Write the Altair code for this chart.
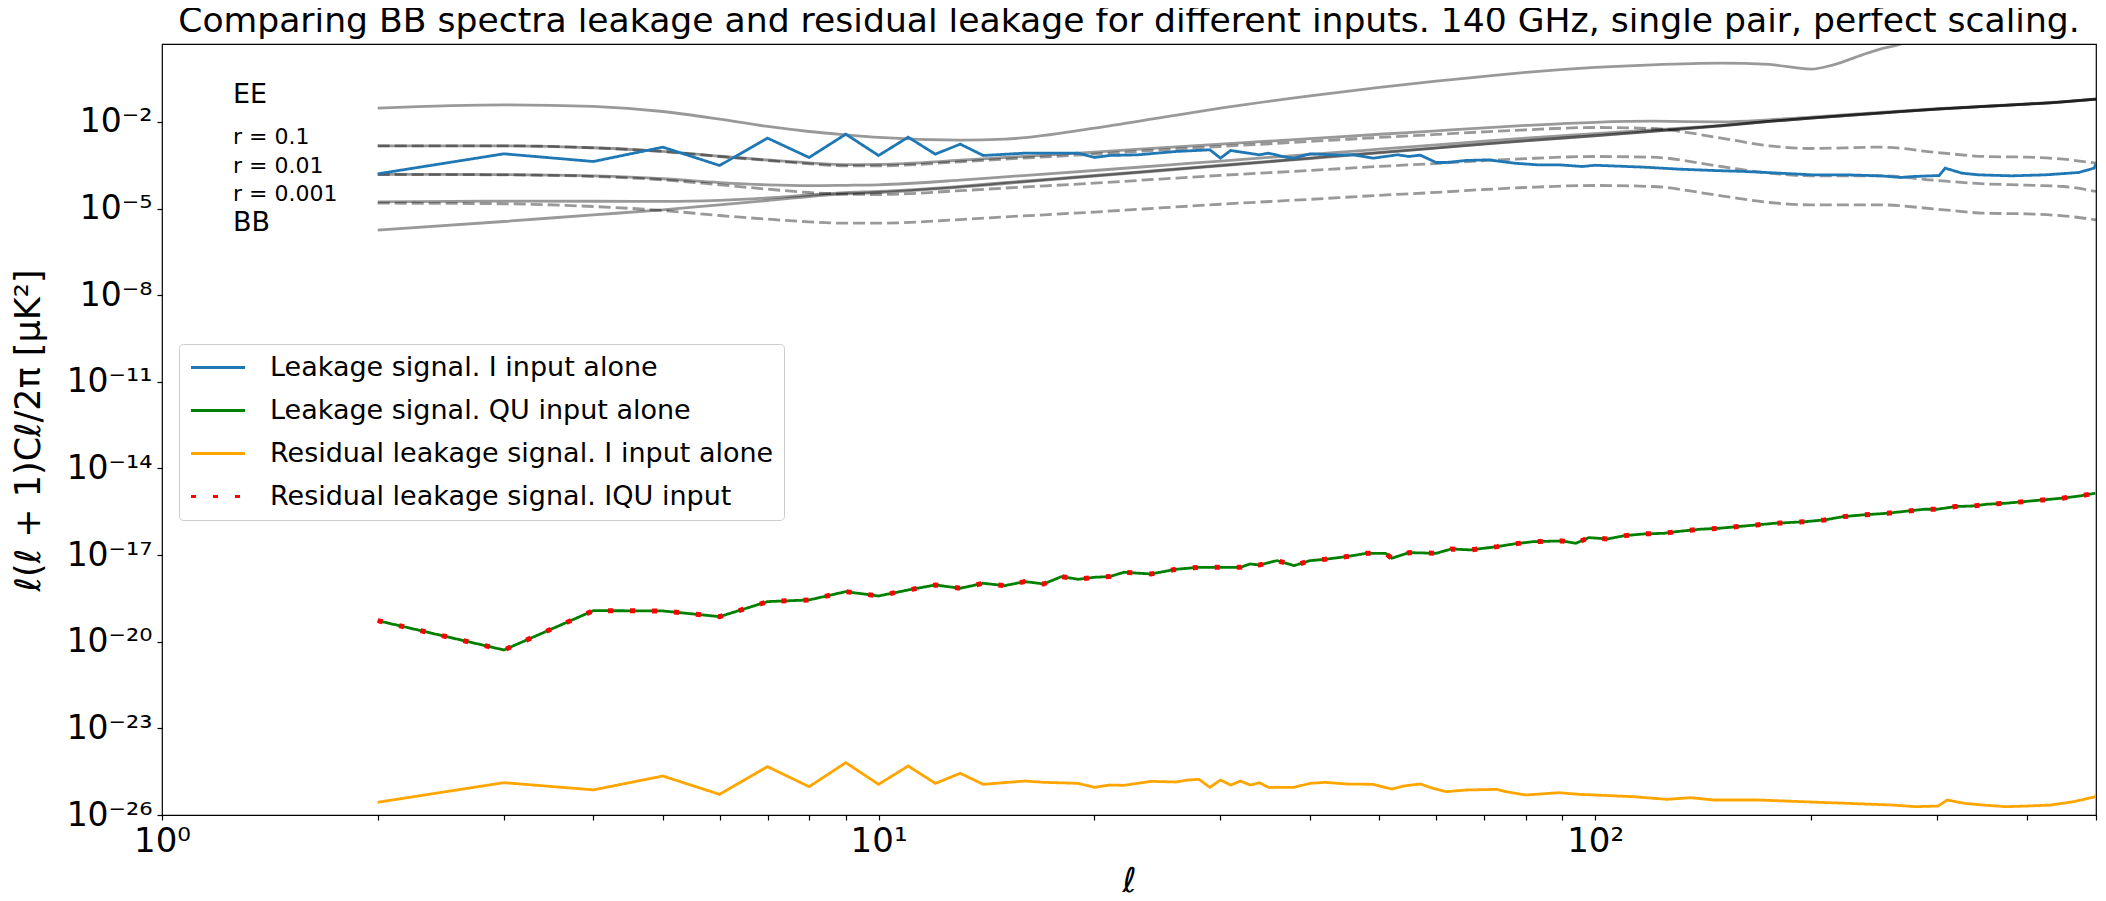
import altair as alt
import pandas as pd

# ---------------- data (log10 of l(l+1)C_l/2pi) -------------
ELL_TH = [2, 3, 4, 5, 6, 7, 8, 9, 10, 13, 15, 20, 25, 30, 40, 50, 60, 70, 80, 100,
          120, 150, 175, 200, 250, 300, 350, 400, 450, 500]

EE_ELL = [2, 3, 4, 5, 6, 7, 8, 9, 10, 13, 15, 20, 25, 30, 40, 50, 60, 70, 80, 100,
          120, 150, 175, 200, 215, 236, 250, 265, 280]
EE_LOG = [-1.522, -1.407, -1.464, -1.638, -1.903, -2.157, -2.331, -2.446, -2.538, -2.631,
          -2.596, -2.215, -1.834, -1.522, -1.095, -0.806, -0.587, -0.425, -0.287, -0.113,
          -0.021, 0.037, -0.009, -0.171, -0.021, 0.325, 0.522, 0.672, 0.903]

BB_R01_TENSOR = [-2.827, -2.827, -2.896, -3.023, -3.197, -3.335, -3.451, -3.520, -3.520, -3.381,
                 -3.289, -3.116, -2.966, -2.850, -2.677, -2.538, -2.434, -2.342, -2.273, -2.192,
                 -2.227, -2.561, -2.827, -2.919, -2.873, -3.058, -3.197, -3.220, -3.289, -3.427]
BB_R001_TENSOR = [-3.820, -3.832, -3.889, -4.005, -4.178, -4.328, -4.444, -4.501, -4.513, -4.380,
                  -4.290, -4.120, -3.970, -3.850, -3.680, -3.540, -3.440, -3.340, -3.270, -3.197,
                  -3.220, -3.543, -3.774, -3.866, -3.866, -4.028, -4.143, -4.189, -4.235, -4.408]
BB_R0001_TENSOR = [-4.813, -4.836, -4.929, -5.067, -5.240, -5.367, -5.460, -5.506, -5.506, -5.380,
                   -5.290, -5.120, -4.970, -4.850, -4.680, -4.540, -4.440, -4.340, -4.270, -4.201,
                   -4.236, -4.559, -4.790, -4.871, -4.871, -5.021, -5.160, -5.183, -5.252, -5.390]
BB_LENSING = [-5.748, -5.448, -5.217, -5.044, -4.871, -4.721, -4.582, -4.490, -4.444, -4.259,
              -4.132, -3.878, -3.682, -3.520, -3.266, -3.070, -2.908, -2.769, -2.654, -2.481,
              -2.330, -2.134, -1.984, -1.869, -1.695, -1.557, -1.464, -1.384, -1.303, -1.210]
BB_R01_TOTAL = [-2.826, -2.826, -2.894, -3.019, -3.188, -3.318, -3.420, -3.476, -3.470, -3.327,
                -3.231, -3.047, -2.890, -2.767, -2.578, -2.426, -2.308, -2.204, -2.122, -2.012,
                -1.975, -1.996, -1.926, -1.832, -1.667, -1.544, -1.456, -1.378, -1.298, -1.207]
BB_R001_TOTAL = [-3.816, -3.822, -3.869, -3.967, -4.100, -4.180, -4.208, -4.194, -4.176, -4.015,
                 -3.903, -3.682, -3.502, -3.354, -3.124, -2.944, -2.796, -2.666, -2.560, -2.405,
                 -2.277, -2.117, -1.977, -1.865, -1.692, -1.555, -1.463, -1.383, -1.302, -1.209]
BB_R0001_TOTAL = [-4.765, -4.740, -4.747, -4.754, -4.716, -4.633, -4.530, -4.450, -4.408, -4.228,
                  -4.103, -3.855, -3.660, -3.500, -3.250, -3.056, -2.895, -2.758, -2.644, -2.473,
                  -2.325, -2.132, -1.983, -1.868, -1.695, -1.557, -1.464, -1.384, -1.303, -1.210]

BLUE_ELL = [2, 3, 4, 5, 6, 7, 8, 9, 10, 11, 12, 13, 14, 16, 19, 20, 21, 23, 26, 29, 30, 31,
            34, 35, 37, 38, 40, 43, 46, 49, 53, 55, 57, 60, 62, 66, 71, 77, 83, 89, 96, 100,
            105, 117, 131, 146, 162, 181, 201, 224, 250, 267, 278, 302, 308, 325, 343, 381,
            425, 473, 497, 500]
BLUE_LOG = [-3.797, -3.104, -3.370, -2.873, -3.508, -2.561, -3.231, -2.423, -3.162, -2.527,
            -3.116, -2.769, -3.162, -3.081, -3.081, -3.231, -3.162, -3.139, -3.023, -2.966,
            -3.254, -2.989, -3.139, -3.081, -3.220, -3.254, -3.104, -3.139, -3.139, -3.254,
            -3.139, -3.197, -3.150, -3.404, -3.404, -3.335, -3.312, -3.427, -3.485, -3.485,
            -3.543, -3.500, -3.520, -3.566, -3.635, -3.681, -3.716, -3.774, -3.832, -3.832,
            -3.866, -3.924, -3.889, -3.855, -3.600, -3.774, -3.832, -3.866, -3.832, -3.751,
            -3.600, -3.450]

GREEN_ELL = [2, 3, 4, 5, 6, 7, 8, 9, 10, 11, 12, 13, 14, 15, 16, 17, 18, 19, 20, 21, 22, 24,
             26, 28, 30, 32, 33, 34, 36, 38, 40, 42, 45, 48, 51, 52, 55, 60, 63, 67, 73, 77,
             82, 90, 94, 98, 104, 110, 117, 125, 130, 140, 149, 158, 168, 178, 186, 197, 209,
             222, 236, 256, 271, 288, 300, 318, 338, 352, 374, 397, 421, 447, 475, 499]
GREEN_LOG = [-19.270, -20.286, -18.923, -18.934, -19.131, -18.611, -18.553, -18.265, -18.415,
             -18.207, -18.034, -18.149, -17.976, -18.057, -17.918, -17.999, -17.745, -17.838,
             -17.768, -17.745, -17.595, -17.653, -17.491, -17.422, -17.422, -17.422, -17.306,
             -17.341, -17.191, -17.364, -17.191, -17.145, -17.052, -16.937, -16.937, -17.110,
             -16.914, -16.937, -16.787, -16.821, -16.706, -16.614, -16.533, -16.510, -16.590,
             -16.394, -16.440, -16.325, -16.267, -16.244, -16.186, -16.105, -16.071, -16.013,
             -15.955, -15.898, -15.874, -15.840, -15.782, -15.667, -15.609, -15.551, -15.482,
             -15.413, -15.413, -15.320, -15.297, -15.239, -15.205, -15.147, -15.089, -15.032,
             -14.951, -14.858]
# the IQU residual coincides with the QU-alone leakage in the reference
RED_ELL = GREEN_ELL
RED_LOG = GREEN_LOG

ORANGE_ELL = [2, 3, 4, 5, 6, 7, 8, 9, 10, 11, 12, 13, 14, 16, 17, 19, 20, 21, 22, 24, 26, 27,
              28, 29, 30, 31, 32, 33, 34, 35, 38, 40, 42, 45, 49, 52, 54, 57, 59, 62, 66, 73,
              75, 80, 89, 95, 100, 113, 126, 136, 146, 169, 195, 225, 260, 280, 301, 310, 328,
              348, 374, 402, 432, 465, 499, 500]
ORANGE_LOG = [-25.560, -24.880, -25.130, -24.650, -25.285, -24.326, -25.019, -24.188, -24.938,
              -24.303, -24.904, -24.557, -24.938, -24.823, -24.869, -24.904, -25.043, -24.962,
              -24.973, -24.835, -24.858, -24.788, -24.765, -25.043, -24.788, -24.962, -24.823,
              -24.962, -24.881, -25.043, -25.043, -24.904, -24.869, -24.927, -24.938, -25.100,
              -24.996, -24.927, -25.054, -25.193, -25.135, -25.112, -25.190, -25.308, -25.227,
              -25.285, -25.308, -25.366, -25.458, -25.400, -25.480, -25.480, -25.540, -25.597,
              -25.655, -25.712, -25.689, -25.481, -25.597, -25.655, -25.712, -25.689, -25.655,
              -25.540, -25.366, -25.300]

SERIES = ["Leakage signal. I input alone",
          "Leakage signal. QU input alone",
          "Residual leakage signal. I input alone",
          "Residual leakage signal. IQU input"]
SERIES_COLORS = ["#1f77b4", "#008000", "#ffa500", "#ff0000"]
SERIES_WIDTHS = [2.8, 2.8, 2.8, 5.0]

ANNOT_TEXT = ["EE", "r = 0.1", "r = 0.01", "r = 0.001", "BB"]
ANNOT_ELL = [1.256, 1.256, 1.256, 1.256, 1.256]
ANNOT_LOG = [-1.06, -2.51, -3.52, -4.49, -5.49]
ANNOT_SIZE = [27, 22, 22, 22, 27]

Y_TICK_EXP = [-26, -23, -20, -17, -14, -11, -8, -5, -2]
X_MAJOR = [1, 10, 100]
X_MINOR = [2, 3, 4, 5, 6, 7, 8, 9, 20, 30, 40, 50, 60, 70, 80, 90, 200, 300, 400, 500]

# ---------------- tables ----------------
def rows(ells, logs, name, lw=2.8):
    return [{"ell": e, "val": 10.0 ** v, "curve": name, "lw": lw} for e, v in zip(ells, logs)]

solid = pd.DataFrame(
    rows(EE_ELL, EE_LOG, "EE")
    + rows(ELL_TH, BB_LENSING, "lens")
    + rows(ELL_TH, BB_R01_TOTAL, "tot01")
    + rows(ELL_TH, BB_R001_TOTAL, "tot001")
    + rows(ELL_TH, BB_R0001_TOTAL, "tot0001")
)
dashed = pd.DataFrame(
    rows(ELL_TH, BB_R01_TENSOR, "t01")
    + rows(ELL_TH, BB_R001_TENSOR, "t001")
    + rows(ELL_TH, BB_R0001_TENSOR, "t0001")
)
leak = pd.DataFrame(
    rows(BLUE_ELL, BLUE_LOG, SERIES[0], SERIES_WIDTHS[0])
    + rows(GREEN_ELL, GREEN_LOG, SERIES[1], SERIES_WIDTHS[1])
    + rows(ORANGE_ELL, ORANGE_LOG, SERIES[2], SERIES_WIDTHS[2])
    + rows(RED_ELL, RED_LOG, SERIES[3], SERIES_WIDTHS[3])
)
annot = pd.DataFrame({"ell": ANNOT_ELL, "val": [10.0 ** v for v in ANNOT_LOG],
                      "text": ANNOT_TEXT, "fs": ANNOT_SIZE})

SUP = str.maketrans("0123456789-", "⁰¹²³⁴⁵⁶⁷⁸⁹⁻")
yexp = "round(log(datum.value)/LN10)"
y_label_expr = "".join(f"{yexp} == {e} ? '10{str(e).translate(SUP)}' : " for e in Y_TICK_EXP) + "''"
x_label_expr = "".join(f"datum.value == {v} ? '10{str(i).translate(SUP)}' : " for i, v in enumerate(X_MAJOR)) + "''"

FONT = "DejaVu Sans"
x_enc = alt.X("ell:Q",
              scale=alt.Scale(type="log", domain=[1, 500], nice=False),
              axis=alt.Axis(values=X_MAJOR + X_MINOR, labelExpr=x_label_expr, title="ℓ",
                            titleFontSize=34, titleFontWeight="normal", titleFontStyle="italic",
                            titleY=66, titleBaseline="middle",
                            labelFontSize=34, labelPadding=4, tickSize=5, tickColor="black",
                            tickWidth=1.2, domain=False, grid=False, labelColor="black",
                            titleColor="black", labelFlush=False))
y_enc = alt.Y("val:Q",
              scale=alt.Scale(type="log", domain=[1e-26, 5], nice=False),
              axis=alt.Axis(values=[10.0 ** e for e in Y_TICK_EXP], labelExpr=y_label_expr,
                            title="ℓ(ℓ + 1)Cℓ/2π [μK²]", titleFontSize=35,
                            titleFontWeight="normal", titleX=-134, titleY=386,
                            titleBaseline="middle", titleAngle=-90,
                            labelFontSize=33, labelPadding=5, tickSize=5, tickColor="black",
                            tickWidth=1.2, domain=False, grid=False, labelColor="black",
                            titleColor="black", labelFlush=False))

solid_layer = alt.Chart(solid).mark_line(clip=True, strokeWidth=2.8, interpolate="monotone").encode(
    x=x_enc, y=y_enc, detail="curve:N",
    color=alt.value("black"), opacity=alt.value(0.4))

dashed_layer = alt.Chart(dashed).mark_line(clip=True, strokeWidth=2.8, interpolate="monotone",
                                            strokeDash=[12, 5]).encode(
    x=x_enc, y=y_enc, detail="curve:N",
    color=alt.value("black"), opacity=alt.value(0.4))

leak_layer = alt.Chart(leak).mark_line(clip=True).encode(
    x=x_enc, y=y_enc,
    color=alt.Color("curve:N", sort=SERIES,
                    scale=alt.Scale(domain=SERIES, range=SERIES_COLORS),
                    legend=alt.Legend(orient="none", legendX=17, legendY=300, title=None,
                                      symbolType="stroke", symbolSize=2916,
                                      symbolStrokeWidth=3.2, labelFontSize=27, labelFont=FONT,
                                      labelColor="black", clipHeight=27, rowPadding=15,
                                      padding=10, strokeColor="#cccccc", fillColor="white",
                                      cornerRadius=4, labelOffset=23, labelLimit=0)),
    strokeDash=alt.StrokeDash("curve:N", sort=SERIES,
                              scale=alt.Scale(domain=SERIES,
                                              range=[[1, 0], [1, 0], [1, 0], [5, 17]]),
                              legend=None),
    strokeWidth=alt.StrokeWidth("lw:Q", scale=None, legend=None),
    order=alt.Order("ell:Q"),
)

annot_layer = alt.Chart(annot).mark_text(align="left", baseline="middle", font=FONT,
                                         color="black").encode(
    x=x_enc, y=y_enc, text="text:N", size=alt.Size("fs:Q", scale=None, legend=None))

chart = alt.layer(solid_layer, dashed_layer, leak_layer, annot_layer).properties(
    width=1934, height=771,
    title=alt.TitleParams(
        "Comparing BB spectra leakage and residual leakage for different inputs. 140 GHz, single pair, perfect scaling.",
        fontSize=34.6, font=FONT, fontWeight="normal", color="black", anchor="middle",
        offset=4),
    autosize=alt.AutoSizeParams(type="none"),
    padding={"left": 154, "top": 36, "right": 2, "bottom": 86},
).configure(font=FONT).configure_view(stroke="black", strokeWidth=1.2)

chart.save("out.html", embed_options={"renderer": "svg", "actions": False})
